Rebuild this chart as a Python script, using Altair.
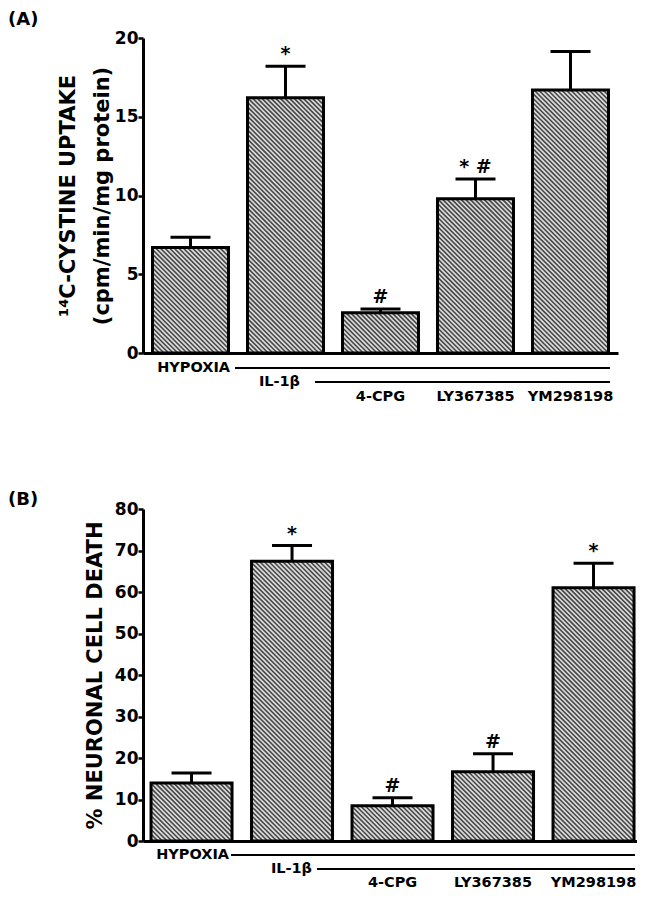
import altair as alt
import pandas as pd

groups = ["HYPOXIA", "IL-1β", "4-CPG", "LY367385", "YM298198"]
bottom_labels = ["", "", "4-CPG", "LY367385", "YM298198"]

uptake_mean = [6.7, 16.2, 2.55, 9.8, 16.7]
uptake_sem = [0.65, 2.0, 0.25, 1.25, 2.45]
uptake_sig = ["", "*", "#", "*  #", ""]

death_mean = [14.0, 67.4, 8.5, 16.7, 61.0]
death_sem = [2.4, 3.8, 1.9, 4.3, 5.9]
death_sig = ["", "*", "#", "#", "*"]

FONT = "DejaVu Sans"
HATCH_BG = "#dcdcdc"
HATCH_LINE = "#474747"
HATCH_GAP = 4.6   # horizontal distance between hatch lines (px)


def panel(mean, sem, sig, width, height, ymax, ticks, ytitle, title_pad, tag, tag_y,
          pin, pout, palign, yoffs, label_pos):
    n = len(groups)
    df = pd.DataFrame({
        "group": groups,
        "idx": list(range(n)),
        "mean": mean,
        "upper": [m + s for m, s in zip(mean, sem)],
        "sig": sig,
        "label": bottom_labels,
    })
    # band geometry (same formula as the band scale) used for the hatch layer
    step = width / max(1, n - pin + 2 * pout)
    start = (width - step * (n - pin)) * palign
    bw = step * (1 - pin)
    k_px = height / ymax

    def bscale():
        return alt.Scale(type="band", paddingInner=pin, paddingOuter=pout,
                         align=palign, round=False)

    x_axis = alt.X("group:N", sort=groups, scale=bscale(),
                   axis=alt.Axis(labels=False, ticks=False, title=None, domainWidth=3,
                                 domainColor="black"))

    def x_plain():
        return alt.X("group:N", sort=groups, scale=bscale(), axis=None)

    y = alt.Y("mean:Q", scale=alt.Scale(domain=[0, ymax], nice=False),
              axis=alt.Axis(values=ticks, grid=False, domainWidth=3, domainColor="black",
                            tickWidth=2.5, tickSize=5, tickColor="black",
                            labelFont=FONT, labelFontSize=17, labelFontWeight="bold",
                            labelColor="black", labelPadding=0,
                            title=ytitle, titleFont=FONT, titleFontSize=21,
                            titleFontWeight="bold", titleColor="black",
                            titlePadding=title_pad, titleLineHeight=34))
    base = alt.Chart(df)
    bars_fill = base.mark_bar(fill=HATCH_BG, strokeWidth=0).encode(x=x_axis, y=y)

    hatch = base.transform_calculate(
        k="sequence(0, 120)"
    ).transform_flatten(["k"]).transform_calculate(
        x0=f"{start} + datum.idx * {step}",
        hp=f"datum.mean * {k_px}",
        c=f"datum.k * {HATCH_GAP} + {HATCH_GAP / 2}",
    ).transform_calculate(
        xa="max(0, datum.c - datum.hp)",
        xb=f"min({bw}, datum.c)",
    ).transform_filter("datum.xa < datum.xb").transform_calculate(
        hx1="datum.x0 + datum.xa",
        hx2="datum.x0 + datum.xb",
        hy2=f"(datum.c - datum.xb) / {k_px}",
    ).transform_calculate(
        mean=f"(datum.c - datum.xa) / {k_px}",
    ).mark_rule(color=HATCH_LINE, strokeWidth=1.6).encode(
        x=alt.X("hx1:Q", scale=alt.Scale(domain=[0, width], nice=False, zero=False),
                axis=None),
        x2="hx2:Q",
        y=alt.Y("mean:Q"),
        y2="hy2:Q",
    )

    bars_edge = base.mark_bar(fill=None, fillOpacity=0, stroke="black",
                              strokeWidth=3).encode(x=x_plain(), y="mean:Q")
    err = base.mark_rule(color="black", strokeWidth=3).encode(
        x=x_plain(), y="mean:Q", y2="upper:Q")
    cap = base.mark_tick(color="black", size=40, thickness=3, opacity=1).encode(
        x=x_plain(), y="upper:Q")
    sigt = base.mark_text(font=FONT, fontWeight="bold", fontSize=19, baseline="bottom",
                          dy=-2, color="black").encode(
        x=x_plain(), y="upper:Q", text="sig:N")
    blab = base.mark_text(font=FONT, fontWeight="bold", fontSize=14.5, baseline="middle",
                          color="black").encode(
        x=x_plain(), y=alt.value(height + yoffs[2]), text="label:N")

    one = pd.DataFrame({"k": [0]})
    ann = alt.Chart(one)
    (hx_end, hl0, il_end, il0, lend) = label_pos
    hyp_t = ann.mark_text(text="HYPOXIA", font=FONT, fontWeight="bold", fontSize=14.5,
                          align="right", baseline="middle", color="black").encode(
        x=alt.value(hx_end), y=alt.value(height + yoffs[0]))
    hyp_l = ann.mark_rule(color="black", strokeWidth=2).encode(
        x=alt.value(hl0), x2=alt.value(lend), y=alt.value(height + yoffs[0]))
    il_t = ann.mark_text(text="IL-1β", font=FONT, fontWeight="bold", fontSize=14.5,
                         align="right", baseline="middle", color="black").encode(
        x=alt.value(il_end), y=alt.value(height + yoffs[1]))
    il_l = ann.mark_rule(color="black", strokeWidth=2).encode(
        x=alt.value(il0), x2=alt.value(lend), y=alt.value(height + yoffs[1]))
    tag_t = ann.mark_text(text=tag, font=FONT, fontWeight="bold", fontSize=18,
                          align="left", baseline="top", color="black").encode(
        x=alt.value(-135), y=alt.value(tag_y))
    return alt.layer(bars_fill, hatch, bars_edge, err, cap, sigt, blab,
                     hyp_t, hyp_l, il_t, il_l, tag_t).resolve_scale(
        x="independent").properties(width=width, height=height)


pa = panel(uptake_mean, uptake_sem, uptake_sig, 475, 315, 20, [0, 5, 10, 15, 20],
           ["¹⁴C-CYSTINE UPTAKE", "(cpm/min/mg protein)"], 2, "(A)", -27,
           0.2, 0.1, 0.5, [15, 29, 44], (87, 92, 157, 172, 467))
pb = panel(death_mean, death_sem, death_sig, 494, 332, 80, list(range(0, 81, 10)),
           "% NEURONAL CELL DEATH", 9, "(B)", -18,
           0.194, 0.0547, 0.73, [14, 28, 42], (86, 88, 169, 174, 492))

chart = alt.vconcat(pa, pb, spacing=87).properties(
    padding={"left": 0, "top": 3, "right": 0, "bottom": 0}
).configure_view(stroke=None)

chart.save("out.html", embed_options={"renderer": "svg", "actions": False})
